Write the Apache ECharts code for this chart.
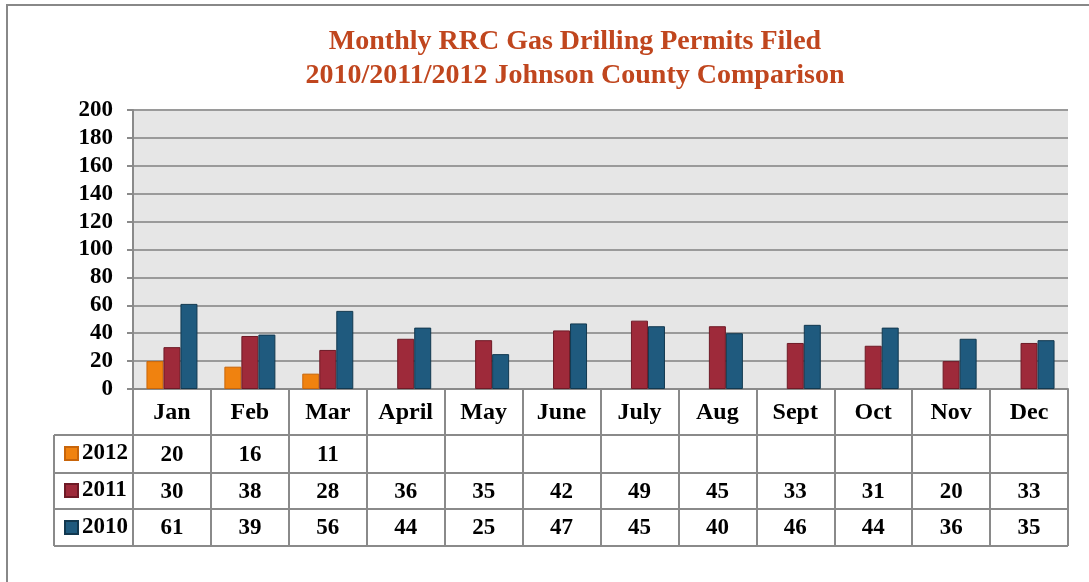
<!DOCTYPE html>
<html>
<head>
<meta charset="utf-8">
<script src="https://cdn.jsdelivr.net/npm/echarts@6/dist/echarts.min.js"></script>
<style>
  html, body { margin: 0; padding: 0; background: #fff; }
  #chart { width: 1089px; height: 582px; }
</style>
</head>
<body>
<div id="chart"></div>
<script>
// data
const months = ['Jan', 'Feb', 'Mar', 'April', 'May', 'June', 'July', 'Aug', 'Sept', 'Oct', 'Nov', 'Dec']
const years = ['2012', '2011', '2010']
const permits2012 = [20, 16, 11, null, null, null, null, null, null, null, null, null]
const permits2011 = [30, 38, 28, 36, 35, 42, 49, 45, 33, 31, 20, 33]
const permits2010 = [61, 39, 56, 44, 25, 47, 45, 40, 46, 44, 36, 35]
const yTicks = [0, 20, 40, 60, 80, 100, 120, 140, 160, 180, 200]

const colors = ['#F0820F', '#9E2A3A', '#1F5A7E']
const borders = ['#C8650A', '#6E1A26', '#12384F']
const font = '"Liberation Serif", "DejaVu Serif", serif'
const lineColor = '#8a8a8a'
const cellFont = 23

const chart = echarts.init(document.getElementById('chart'))

// table rows: each one is an extra category axis under the grid
const rows = [permits2012, permits2011, permits2010]
const rowTop = [46, 84, 120]
const rowHeight = [38, 36, 37]

function rowAxis(values, i) {
    return {
        type: 'category',
        data: values.map(v => v == null ? '' : String(v)),
        position: 'bottom',
        offset: rowTop[i],
        axisLine: { show: true, lineStyle: { color: lineColor, width: 2 } },
        axisTick: { show: true, length: rowHeight[i], lineStyle: { color: lineColor, width: 2 } },
        axisLabel: {
            margin: Math.round(rowHeight[i] / 2 - cellFont / 2) + 1,
            fontFamily: font, fontWeight: 'bold', fontSize: cellFont, color: '#000',
            interval: 0
        },
        splitLine: { show: false }
    }
}

const gridLeft = 133, gridTop = 110, gridRight = 21, gridBottom = 193
const tableLeft = 54
const tableBottom = 582 - gridBottom + rowTop[2] + rowHeight[2]

const option = {
    animation: false,
    title: {
        text: 'Monthly RRC Gas Drilling Permits Filed\n2010/2011/2012 Johnson County Comparison',
        left: 570,
        textAlign: 'center',
        top: 20,
        textStyle: {
            fontFamily: font, fontWeight: 'bold', fontSize: 28,
            color: '#C0461E', lineHeight: 34
        }
    },
    legend: {
        orient: 'vertical',
        left: 59,
        top: 437,
        itemGap: 14,
        itemWidth: 13,
        itemHeight: 13,
        icon: 'rect',
        data: years,
        selectedMode: false,
        textStyle: { fontFamily: font, fontWeight: 'bold', fontSize: cellFont, color: '#000', padding: [0, 0, 0, -1] }
    },
    grid: {
        left: gridLeft, right: gridRight, top: gridTop, bottom: gridBottom,
        show: true, backgroundColor: '#E6E6E6', borderWidth: 0
    },
    xAxis: [{
        type: 'category',
        data: months,
        axisLine: { lineStyle: { color: lineColor, width: 2 } },
        axisTick: { show: true, length: rowTop[0], lineStyle: { color: lineColor, width: 2 } },
        axisLabel: {
            margin: 12,
            fontFamily: font, fontWeight: 'bold', fontSize: 24, color: '#000',
            interval: 0
        }
    }].concat(rows.map(rowAxis)),
    yAxis: {
        type: 'value',
        min: yTicks[0],
        max: yTicks[yTicks.length - 1],
        interval: 20,
        axisLine: { show: true, lineStyle: { color: lineColor, width: 2 } },
        axisTick: { show: true, length: 6, lineStyle: { color: lineColor, width: 2 } },
        axisLabel: {
            margin: 20,
            fontFamily: font, fontWeight: 'bold', fontSize: 23, color: '#000'
        },
        splitLine: { lineStyle: { color: '#9a9a9a', width: 2 } }
    },
    series: rows.map((values, i) => ({
        name: years[i],
        type: 'bar',
        data: values,
        barWidth: 17,
        barGap: '0%',
        itemStyle: { color: colors[i], borderColor: borders[i], borderWidth: 1 }
    })),
    graphic: [
        // outer frame
        { type: 'line', shape: { x1: 6, y1: 5, x2: 1089, y2: 5 }, style: { stroke: '#888', lineWidth: 2 } },
        { type: 'line', shape: { x1: 7, y1: 5, x2: 7, y2: 582 }, style: { stroke: '#888', lineWidth: 2 } },
        // left column of the table
        { type: 'line', shape: { x1: gridLeft, y1: 582 - gridBottom, x2: gridLeft, y2: tableBottom }, style: { stroke: lineColor, lineWidth: 2 } },
        { type: 'line', shape: { x1: tableLeft, y1: 582 - gridBottom + rowTop[0], x2: tableLeft, y2: tableBottom }, style: { stroke: lineColor, lineWidth: 2 } },
        { type: 'line', shape: { x1: tableLeft, y1: 582 - gridBottom + rowTop[0], x2: gridLeft, y2: 582 - gridBottom + rowTop[0] }, style: { stroke: lineColor, lineWidth: 2 } },
        { type: 'line', shape: { x1: tableLeft, y1: 582 - gridBottom + rowTop[1], x2: gridLeft, y2: 582 - gridBottom + rowTop[1] }, style: { stroke: lineColor, lineWidth: 2 } },
        { type: 'line', shape: { x1: tableLeft, y1: 582 - gridBottom + rowTop[2], x2: gridLeft, y2: 582 - gridBottom + rowTop[2] }, style: { stroke: lineColor, lineWidth: 2 } },
        { type: 'line', shape: { x1: tableLeft, y1: tableBottom, x2: 1089 - gridRight, y2: tableBottom }, style: { stroke: lineColor, lineWidth: 2 } }
    ]
}

chart.setOption(option)
</script>
</body>
</html>
